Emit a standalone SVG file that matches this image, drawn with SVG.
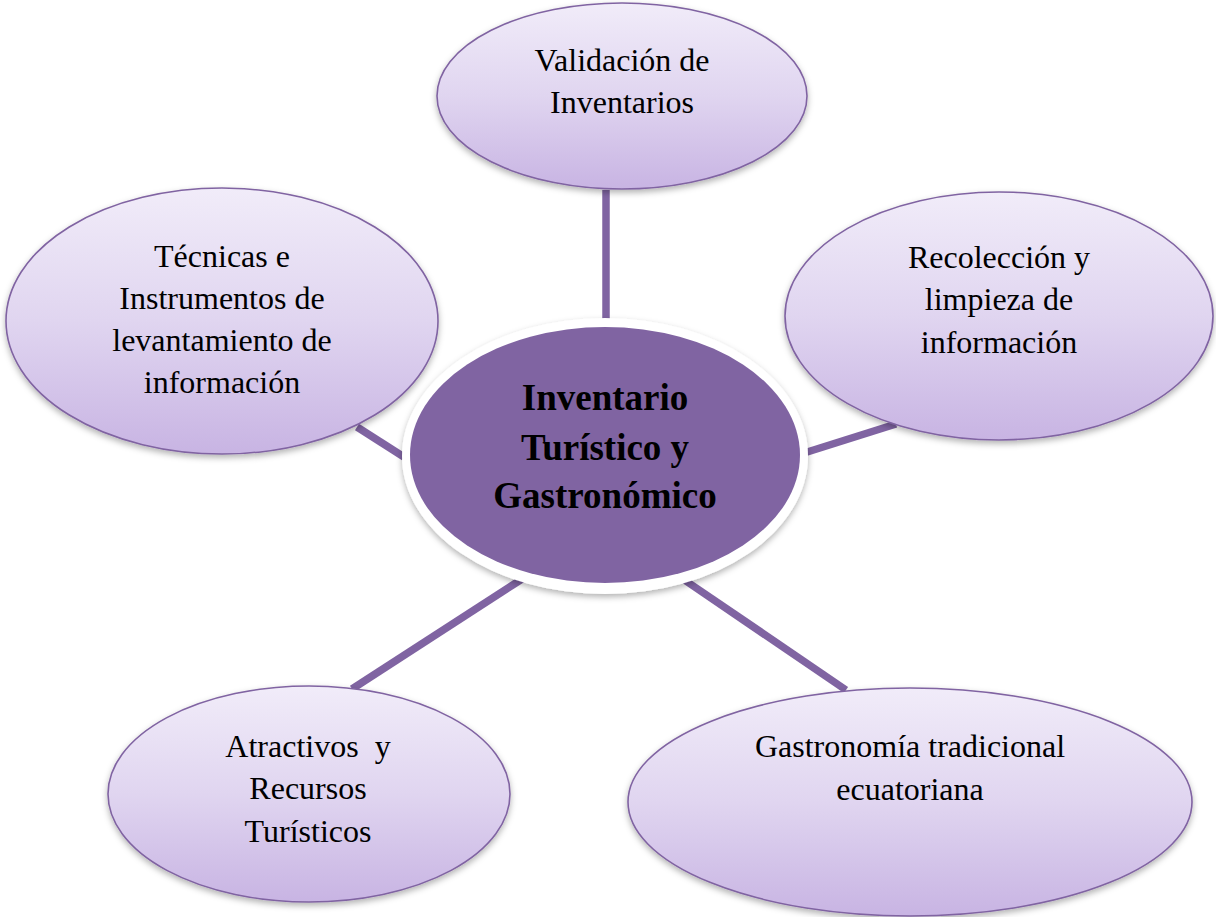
<svg xmlns="http://www.w3.org/2000/svg" width="1216" height="917" viewBox="0 0 1216 917">
<defs>
<linearGradient id="g" x1="0" y1="0" x2="0" y2="1">
<stop offset="0" stop-color="#f1ecf9"/>
<stop offset="0.5" stop-color="#e0d5f0"/>
<stop offset="1" stop-color="#c8b4e3"/>
</linearGradient>
<filter id="sh" x="-10%" y="-10%" width="120%" height="125%">
<feDropShadow dx="0" dy="3" stdDeviation="3" flood-color="#000" flood-opacity="0.3"/>
</filter>
</defs>
<style>
.outer{fill:url(#g);stroke:#8064a2;stroke-width:1.6;filter:url(#sh)}
.c{stroke:#8064a2;stroke-width:7.5;fill:none}
.t{font-family:"Liberation Serif","Times New Roman",serif;font-size:32px;fill:#000;text-anchor:middle}
.b{font-family:"Liberation Serif","Times New Roman",serif;font-size:37px;font-weight:bold;fill:#000;text-anchor:middle}
</style>
<rect width="1216" height="917" fill="#fff"/>
<g id="connectors">
<line class="c" x1="606" y1="190" x2="606" y2="330"/>
<line class="c" x1="357" y1="427" x2="404" y2="457"/>
<line class="c" x1="785" y1="459" x2="896" y2="424"/>
<line class="c" x1="522" y1="579" x2="352" y2="689"/>
<line class="c" x1="683" y1="579" x2="846" y2="690"/>
</g>
<g id="n-validacion">
<ellipse class="outer" cx="622" cy="96" rx="185" ry="93"/>
<text class="t" x="622" y="71">Validación de</text>
<text class="t" x="622" y="113">Inventarios</text>
</g>
<g id="n-tecnicas">
<ellipse class="outer" cx="222" cy="321" rx="216" ry="133"/>
<text class="t" x="222" y="267">Técnicas e</text>
<text class="t" x="222" y="309">Instrumentos de</text>
<text class="t" x="222" y="351">levantamiento de</text>
<text class="t" x="222" y="393">información</text>
</g>
<g id="n-recoleccion">
<ellipse class="outer" cx="999" cy="316" rx="214" ry="124"/>
<text class="t" x="999" y="268">Recolección y</text>
<text class="t" x="999" y="310">limpieza de</text>
<text class="t" x="999" y="353">información</text>
</g>
<g id="n-atractivos">
<ellipse class="outer" cx="309" cy="794" rx="201" ry="108"/>
<text class="t" x="308" y="757" xml:space="preserve">Atractivos  y</text>
<text class="t" x="308" y="799">Recursos</text>
<text class="t" x="308" y="842">Turísticos</text>
</g>
<g id="n-gastronomia">
<ellipse class="outer" cx="910" cy="802" rx="282" ry="114"/>
<text class="t" x="910" y="757">Gastronomía tradicional</text>
<text class="t" x="910" y="800">ecuatoriana</text>
</g>
<g id="n-center">
<ellipse cx="605" cy="456" rx="203" ry="138" fill="#fff" filter="url(#sh)"/>
<ellipse cx="605" cy="455" rx="195" ry="128" fill="#8064a2"/>
<text class="b" x="605" y="410">Inventario</text>
<text class="b" x="605" y="460">Turístico y</text>
<text class="b" x="605" y="508">Gastronómico</text>
</g>
</svg>
